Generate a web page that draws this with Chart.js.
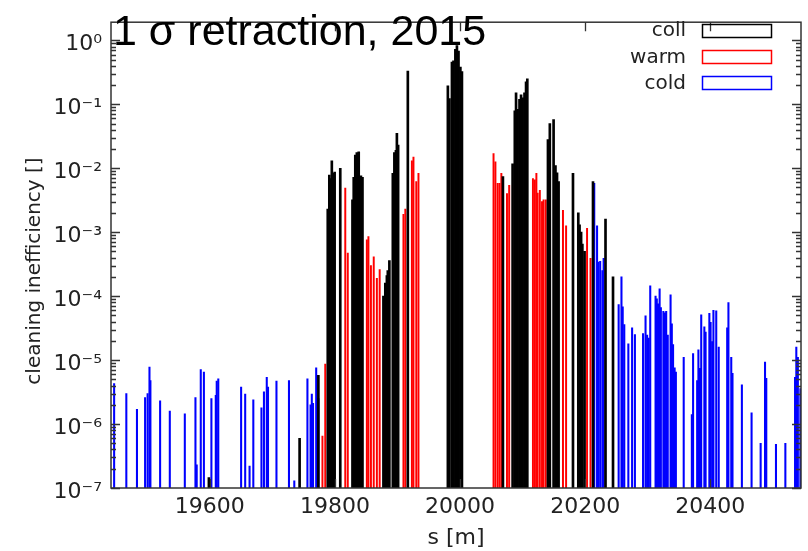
<!DOCTYPE html>
<html><head><meta charset="utf-8">
<script src="https://cdn.jsdelivr.net/npm/chart.js@4.4.1/dist/chart.umd.min.js"></script>
<style>html,body{margin:0;padding:0;background:#fff}#wrap{width:808px;height:551px;position:relative}</style>
</head><body><div id="wrap"><canvas id="c"></canvas></div>
<script>
const titleText = '1 σ retraction, 2015';
const xTitle = 's [m]';
const yTitle = 'cleaning inefficiency []';
const xTickValues = [19600, 19800, 20000, 20200, 20400];
const yTickValues = [1e-7, 1e-6, 1e-5, 1e-4, 1e-3, 1e-2, 1e-1, 1];
const yTickLabels = ['10\u207B\u2077','10\u207B\u2076','10\u207B\u2075','10\u207B\u2074','10\u207B\u00B3','10\u207B\u00B2','10\u207B\u00B9','10\u2070'];
const seriesNames = ['coll', 'warm', 'cold'];
const seriesColors = ['#000000', '#ff0000', '#0000ff'];

const collS = [19598.5, 19743.5, 19773.5,
  19788.5, 19791, 19793, 19795, 19797, 19799.5, 19808.5,
  19828, 19830, 19832.5, 19835, 19838, 19841.5, 19844,
  19877.5, 19880.5, 19883, 19884.5, 19887,
  19892.5, 19895, 19897.5, 19899, 19901, 19916.5,
  19980.5, 19983, 19987, 19989.5, 19992.5, 19995, 19997.5, 20000.5, 20003,
  20068.5,
  20084, 20087.5, 20089.5, 20092, 20095, 20097.5, 20100, 20103, 20105.5, 20107.5,
  20140.5, 20143.5, 20149.5, 20152.5, 20155, 20157.5,
  20180.5, 20189, 20191, 20193.5, 20195.5, 20199,
  20212.5, 20232.5, 20244.5];
const collV = [1.45e-7, 6.0e-7, 5.8e-6,
  2.3e-3, 7.8e-3, 6.9e-3, 1.3e-2, 8.3e-3, 8.7e-3, 1.0e-2,
  3.2e-3, 7.2e-3, 1.6e-2, 1.75e-2, 1.8e-2, 7.6e-3, 7.2e-3,
  1.0e-4, 1.6e-4, 2.1e-4, 2.5e-4, 3.6e-4,
  8.3e-3, 1.75e-2, 1.9e-2, 3.5e-2, 2.3e-2, 0.33,
  0.195, 0.123, 0.457, 0.479, 0.724, 0.83, 0.676, 0.38, 0.324,
  7.4e-3,
  1.17e-2, 7.9e-2, 0.151, 8.3e-2, 0.12, 0.141, 0.126, 0.151, 0.224, 0.251,
  2.8e-2, 5.0e-2, 5.75e-2, 1.1e-2, 8.5e-3, 6.2e-3,
  8.3e-3, 2.0e-3, 1.3e-3, 1.0e-3, 6.5e-4, 5.0e-4,
  6.2e-3, 1.6e-3, 2.0e-4];

const warmS = [19780, 19784.5, 19816.5, 19820.5,
  19851, 19853.5, 19857.5, 19862, 19867, 19871.5,
  19909.5, 19912.5, 19923, 19925.5, 19930, 19933.5,
  20053.5, 20056.5, 20060, 20063, 20066, 20075, 20078.5,
  20116.5, 20119.5, 20122, 20124, 20127.5, 20131, 20133.5, 20137,
  20164.5, 20169.5, 20203, 20208.5];
const warmV = [6.5e-7, 8.7e-6, 4.9e-3, 4.7e-4,
  7.6e-4, 8.5e-4, 3.0e-4, 4.1e-4, 1.9e-4, 2.6e-4,
  1.9e-3, 2.3e-3, 1.3e-2, 1.5e-2, 6.2e-3, 8.3e-3,
  1.7e-2, 1.26e-2, 5.8e-3, 5.8e-3, 8.3e-3, 4.0e-3, 5.4e-3,
  6.9e-3, 6.6e-3, 8.3e-3, 4.1e-3, 4.5e-3, 3.0e-3, 3.2e-3, 3.2e-3,
  2.2e-3, 1.26e-3, 1.15e-3, 3.9e-4];

const coldS = [19447, 19466.5, 19483.5, 19496.5, 19500.5, 19503.5, 19505, 19520.5, 19536, 19560,
  19577, 19579, 19585.5, 19590.5, 19602.5, 19609.5, 19611, 19613.5, 19650, 19656.5,
  19663.5, 19669.5, 19682.5, 19686.5, 19691, 19693, 19706.5, 19726.5, 19735, 19756,
  19761, 19763, 19765, 19770, 19773.5,
  20214.5, 20219, 20221, 20224, 20227.5, 20229.5, 20253.5, 20258, 20260, 20262.5,
  20269, 20275, 20279.5, 20292.5, 20296.5, 20299, 20301.5, 20304, 20312.5, 20314.5,
  20316.5, 20319, 20321, 20325, 20327.5, 20329.5, 20332, 20336.5, 20338.5, 20340.5,
  20343, 20345, 20357.5, 20370.5, 20372.5, 20379, 20381, 20383.5, 20385.5, 20390.5,
  20392.5, 20398.5, 20400.5, 20403, 20405, 20409.5, 20413.5, 20427, 20429, 20433.5,
  20435.5, 20450.5, 20466, 20480.5, 20487.5, 20489.5, 20505, 20520, 20535.5, 20537.5,
  20540, 20544];
const coldV = [4.3e-6, 3.0e-6, 1.7e-6, 2.6e-6, 3.0e-6, 7.8e-6, 4.8e-6, 2.3e-6, 1.6e-6, 1.45e-6,
  2.6e-6, 2.3e-7, 7.1e-6, 6.5e-6, 2.5e-6, 2.8e-6, 4.7e-6, 5.1e-6, 3.8e-6, 2.95e-6,
  2.2e-7, 2.4e-6, 1.8e-6, 3.2e-6, 5.4e-6, 3.8e-6, 4.7e-6, 4.8e-6, 1.3e-7, 5.1e-6,
  2.0e-6, 2.95e-6, 2.1e-6, 7.6e-6, 2.5e-6,
  5.8e-3, 1.26e-3, 3.4e-4, 3.5e-4, 2.5e-4, 3.9e-4, 7.4e-5, 2.0e-4, 6.8e-5, 3.6e-5,
  1.8e-5, 3.2e-5, 2.5e-5, 2.6e-5, 4.9e-5, 2.45e-5, 2.2e-5, 1.45e-4, 1.0e-4, 9.1e-5,
  7.6e-5, 1.3e-4, 6.6e-5, 5.8e-5, 5.5e-5, 5.8e-5, 2.45e-5, 1.05e-4, 3.7e-5, 1.75e-5,
  7.6e-6, 6.5e-6, 1.1e-5, 1.4e-6, 1.26e-5, 4.8e-6, 1.45e-5, 7.4e-6, 5.1e-5, 3.3e-5,
  2.75e-5, 5.4e-5, 3.9e-5, 1.95e-5, 6.0e-5, 5.9e-5, 1.6e-5, 3.2e-5, 7.9e-5, 1.1e-5,
  6.2e-6, 4.1e-6, 1.5e-6, 5.0e-7, 9.3e-6, 5.2e-6, 4.8e-7, 5.0e-7, 5.4e-6, 1.6e-5,
  1.1e-5, 3.6e-6];

const X_MIN = 19442, X_MAX = 20545, Y_MIN = 1e-7, Y_MAX = 1.92;
const FONT = '"DejaVu Sans", sans-serif';
const TEXT = '#222222';
const barWidths = [2, 1.3, 1.4];

function pts(s, v) { return s.map((x, i) => ({ x: x, y: v[i] })); }

const datasets = [[collS, collV], [warmS, warmV], [coldS, coldV]].map((p, i) => ({
  label: seriesNames[i],
  data: pts(p[0], p[1]),
  backgroundColor: seriesColors[i],
  borderColor: seriesColors[i],
  borderWidth: 0,
  barThickness: barWidths[i],
  grouped: false,
  base: Y_MIN
}));

const framePlugin = {
  id: 'frameTicks',
  afterDatasetsDraw(chart) {
    const ctx = chart.ctx, a = chart.chartArea;
    const xs = chart.scales.x, ys = chart.scales.y;
    ctx.save();
    ctx.strokeStyle = '#333';
    ctx.lineWidth = 1.3;
    ctx.beginPath();
    for (let e = -7; e <= 0; e++) {
      for (let m = 1; m <= 9; m++) {
        const v = m * Math.pow(10, e);
        if (v > Y_MAX || v < Y_MIN) continue;
        const py = Math.round(ys.getPixelForValue(v)) + 0.5;
        const len = m === 1 ? 9 : 5;
        ctx.moveTo(a.left, py); ctx.lineTo(a.left + len, py);
        ctx.moveTo(a.right, py); ctx.lineTo(a.right - len, py);
      }
    }
    xTickValues.forEach(v => {
      const px = Math.round(xs.getPixelForValue(v)) + 0.5;
      ctx.moveTo(px, a.top); ctx.lineTo(px, a.top + 9);
      ctx.moveTo(px, a.bottom); ctx.lineTo(px, a.bottom - 9);
    });
    ctx.stroke();
    ctx.lineWidth = 1.5;
    ctx.strokeRect(a.left, a.top, a.right - a.left, a.bottom - a.top);

    ctx.fillStyle = '#000';
    ctx.font = '43px "Liberation Sans", Arial, sans-serif';
    ctx.textAlign = 'left';
    ctx.textBaseline = 'alphabetic';
    ctx.fillText(titleText, 113, 45);

    ctx.font = '20px ' + FONT;
    ctx.textAlign = 'right';
    ctx.textBaseline = 'middle';
    chart.data.datasets.forEach((ds, i) => {
      const cy = 30 + i * 26.3;
      ctx.fillStyle = TEXT;
      ctx.fillText(ds.label, 686, cy + 1);
      ctx.strokeStyle = ds.borderColor;
      ctx.lineWidth = 1.5;
      ctx.strokeRect(702.5, Math.round(cy - 6.5) + 0.5, 69, 13);
    });
    ctx.restore();
  }
};

new Chart(document.getElementById('c'), {
  type: 'bar',
  data: { datasets: datasets },
  options: {
    responsive: true,
    maintainAspectRatio: false,
    animation: false,
    layout: { padding: { top: 7, right: 7, left: 0, bottom: 0 } },
    plugins: { legend: { display: false }, tooltip: { enabled: false } },
    scales: {
      x: {
        type: 'linear',
        min: X_MIN, max: X_MAX,
        offset: false,
        grid: { display: false, drawTicks: false },
        border: { display: false },
        afterBuildTicks: s => { s.ticks = xTickValues.map(v => ({ value: v })); },
        afterFit: s => { s.height = 63; },
        ticks: { color: TEXT, font: { family: FONT, size: 22 }, padding: 6, maxRotation: 0, autoSkip: false,
          callback: v => String(v) },
        title: { display: true, text: xTitle, color: TEXT, font: { family: FONT, size: 22 }, padding: { top: 0, bottom: 0 } }
      },
      y: {
        type: 'logarithmic',
        min: Y_MIN, max: Y_MAX,
        grid: { display: false, drawTicks: false },
        border: { display: false },
        afterBuildTicks: s => { s.ticks = yTickValues.map(v => ({ value: v })); },
        afterFit: s => { s.width = 111; },
        ticks: { color: TEXT, font: { family: FONT, size: 22 }, padding: 9, labelOffset: 4, autoSkip: false,
          callback: (v, i) => yTickLabels[i] },
        title: { display: true, text: yTitle + '     ', color: TEXT, font: { family: FONT, size: 20 }, padding: { top: 23, bottom: 0 } }
      }
    }
  },
  plugins: [framePlugin]
});
</script></body></html>
